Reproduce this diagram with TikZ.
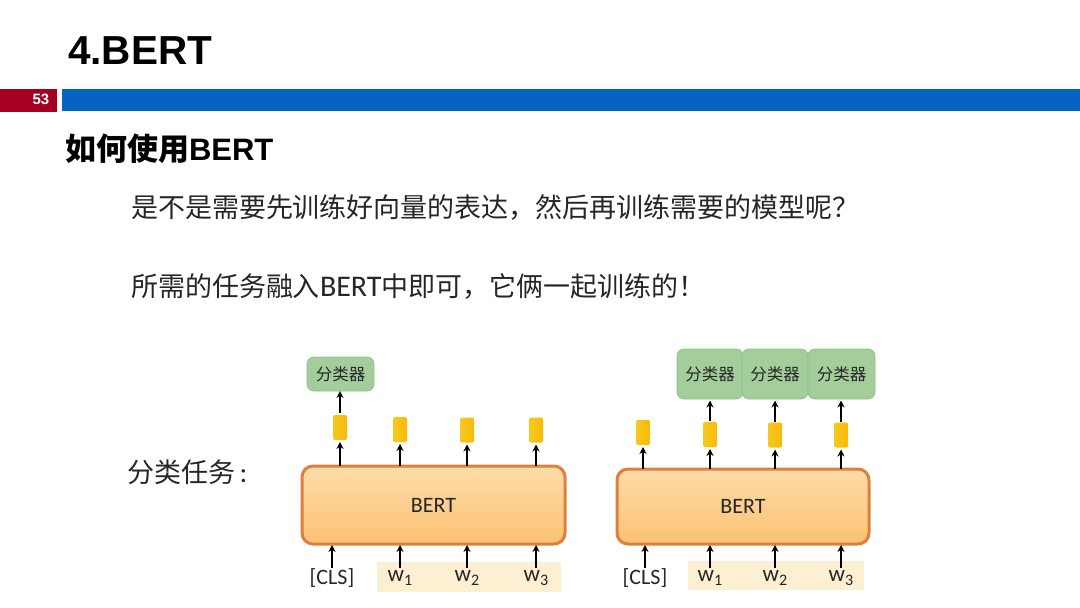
\documentclass[tikz,border=0pt]{standalone}
\usepackage{fontspec}
\setmainfont{Liberation Sans}
\newfontfamily\cjk{Noto Sans CJK SC}
\newfontfamily\cali{Carlito}
\usetikzlibrary{arrows.meta}

\definecolor{barred}{HTML}{A50021}
\definecolor{barblue}{HTML}{0563C1}
\definecolor{bertline}{HTML}{DE7F3E}
\definecolor{berttop}{HTML}{FDDCA8}
\definecolor{bertlow}{HTML}{FBC273}
\definecolor{bandfill}{HTML}{FDF0D2}
\definecolor{clffill}{HTML}{A4CD9C}
\definecolor{clfline}{HTML}{8FBF85}
\definecolor{vecleft}{HTML}{F5C91E}
\definecolor{vecright}{HTML}{F9B908}
\definecolor{inktext}{HTML}{262626}

\def\fsize#1{\fontsize{#1}{#1}\selectfont}
\def\wsub#1{{\cali\fsize{23}w\raisebox{-4pt}{\fsize{16}#1}}}

\begin{document}
\begin{tikzpicture}[x=1pt,y=-1pt,->,>={Stealth[length=7pt,width=7pt]},line width=1.6pt,draw=black]
    \tikzstyle{every node}=[outer sep=0pt]
    \tikzstyle{bar}=[rectangle,inner sep=0pt]
    \tikzstyle{bert}=[rectangle,rounded corners=11pt,draw=bertline,line width=3pt,top color=berttop,bottom color=bertlow,inner sep=0pt,text=inktext,font=\cali\fsize{22}]
    \tikzstyle{vec}=[rectangle,rounded corners=1.5pt,left color=vecleft,right color=vecright,minimum width=14pt,minimum height=25pt,inner sep=0pt]
    \tikzstyle{clf}=[rectangle,rounded corners=7pt,draw=clfline,line width=0.7pt,fill=clffill,inner sep=0pt,text=inktext,font=\cjk\fsize{16.5}]
    \tikzstyle{band}=[rectangle,fill=bandfill,inner sep=0pt]
    \tikzstyle{word}=[minimum height=20pt,inner sep=0pt,text=inktext,font=\cali\fsize{22}]
    \tikzstyle{slide}=[anchor=west,inner sep=0pt,text=inktext]

    \useasboundingbox (0,0) rectangle (1080,608);

    % Draw the slide header
    \node[bar,fill=barred,minimum width=57pt,minimum height=23pt,anchor=north west,text=white] (mark) at (0,89) {};
    \node[bar,fill=barblue,minimum width=1018pt,minimum height=22.5pt,anchor=north west] (rule) at (62,88.5) {};
    \node[inner sep=0pt,text=white,font=\bfseries\fsize{15}] (page) at (41,99.5) {53};
    \node[slide,text=black,font=\bfseries\fsize{40.5}] (title) at (68,51) {4.BERT};
    \node[slide,text=black,font=\bfseries\fsize{31}] (sub) at (65,149) {{\cjk 如何使用}BERT};

    % Draw the lines of text
    \node[slide,font=\cjk\fsize{27}] (ask) at (131,207) {是不是需要先训练好向量的表达，然后再训练需要的模型呢？};
    \node[slide,font=\cjk\fsize{27}] (tell) at (131,287) {所需的任务融入{\cali\fsize{30}BERT}中即可，它俩一起训练的！};
    \node[slide,font=\cjk\fsize{27}] (task) at (127,472) {分类任务\,{\cali\fsize{29}:}};

    % Draw the left model
    \node[bert,minimum width=263pt,minimum height=78pt] (BL) at (433.5,505) {BERT};
    \node[band,minimum width=184pt,minimum height=30pt] (bandl) at (469,577) {};
    \node[clf,minimum width=67pt,minimum height=34pt] (CL-1) at (340.5,374) {分类器};

    \node[vec] (VL-1) at (340,427.5) {};
    \node[vec] (VL-2) at (400,429.5) {};
    \node[vec] (VL-3) at (467,430) {};
    \node[vec] (VL-4) at (536,430) {};

    \node[word] (WL-1) at (332,578) {[CLS]};
    \node[word] (WL-2) at (400,578) {\wsub{1}};
    \node[word] (WL-3) at (467,578) {\wsub{2}};
    \node[word] (WL-4) at (536,578) {\wsub{3}};

    % Draw the right model
    \node[bert,minimum width=252pt,minimum height=75pt] (BR) at (743,506.5) {BERT};
    \node[band,minimum width=176pt,minimum height=29pt] (bandr) at (776,575) {};
    \node[clf,minimum width=66pt,minimum height=50pt] (CR-1) at (710,374) {分类器};
    \node[clf,minimum width=66pt,minimum height=50pt] (CR-2) at (775,374) {分类器};
    \node[clf,minimum width=67pt,minimum height=50pt] (CR-3) at (841.5,374) {分类器};

    \node[vec] (VR-1) at (643,432.5) {};
    \node[vec] (VR-2) at (710,434.5) {};
    \node[vec] (VR-3) at (775,435) {};
    \node[vec] (VR-4) at (841,435) {};

    \node[word] (WR-1) at (645,578) {[CLS]};
    \node[word] (WR-2) at (710,578) {\wsub{1}};
    \node[word] (WR-3) at (775,578) {\wsub{2}};
    \node[word] (WR-4) at (841,578) {\wsub{3}};

    % Connect the left model
    \path (WL-1.north) edge[shorten >=1pt] (WL-1.north |- BL.south);
    \path (WL-2.north) edge[shorten >=1pt] (WL-2.north |- BL.south);
    \path (WL-3.north) edge[shorten >=1pt] (WL-3.north |- BL.south);
    \path (WL-4.north) edge[shorten >=1pt] (WL-4.north |- BL.south);
    \path (VL-1.south |- BL.north) edge[shorten >=2pt] (VL-1.south);
    \path (VL-2.south |- BL.north) edge[shorten >=2pt] (VL-2.south);
    \path (VL-3.south |- BL.north) edge[shorten >=2pt] (VL-3.south);
    \path (VL-4.south |- BL.north) edge[shorten >=2pt] (VL-4.south);
    \path (VL-1.north) edge[shorten <=2pt] (VL-1.north |- CL-1.south);

    % Connect the right model
    \path (WR-1.north) edge[shorten >=1pt] (WR-1.north |- BR.south);
    \path (WR-2.north) edge[shorten >=1pt] (WR-2.north |- BR.south);
    \path (WR-3.north) edge[shorten >=1pt] (WR-3.north |- BR.south);
    \path (WR-4.north) edge[shorten >=1pt] (WR-4.north |- BR.south);
    \path (VR-1.south |- BR.north) edge[shorten >=2pt] (VR-1.south);
    \path (VR-2.south |- BR.north) edge[shorten >=2pt] (VR-2.south);
    \path (VR-3.south |- BR.north) edge[shorten >=2pt] (VR-3.south);
    \path (VR-4.south |- BR.north) edge[shorten >=2pt] (VR-4.south);
    \path (VR-2.north) edge[shorten <=1pt,shorten >=1.5pt] (VR-2.north |- CR-1.south);
    \path (VR-3.north) edge[shorten <=1pt,shorten >=1.5pt] (VR-3.north |- CR-2.south);
    \path (VR-4.north) edge[shorten <=1pt,shorten >=1.5pt] (VR-4.north |- CR-3.south);
\end{tikzpicture}
\end{document}
